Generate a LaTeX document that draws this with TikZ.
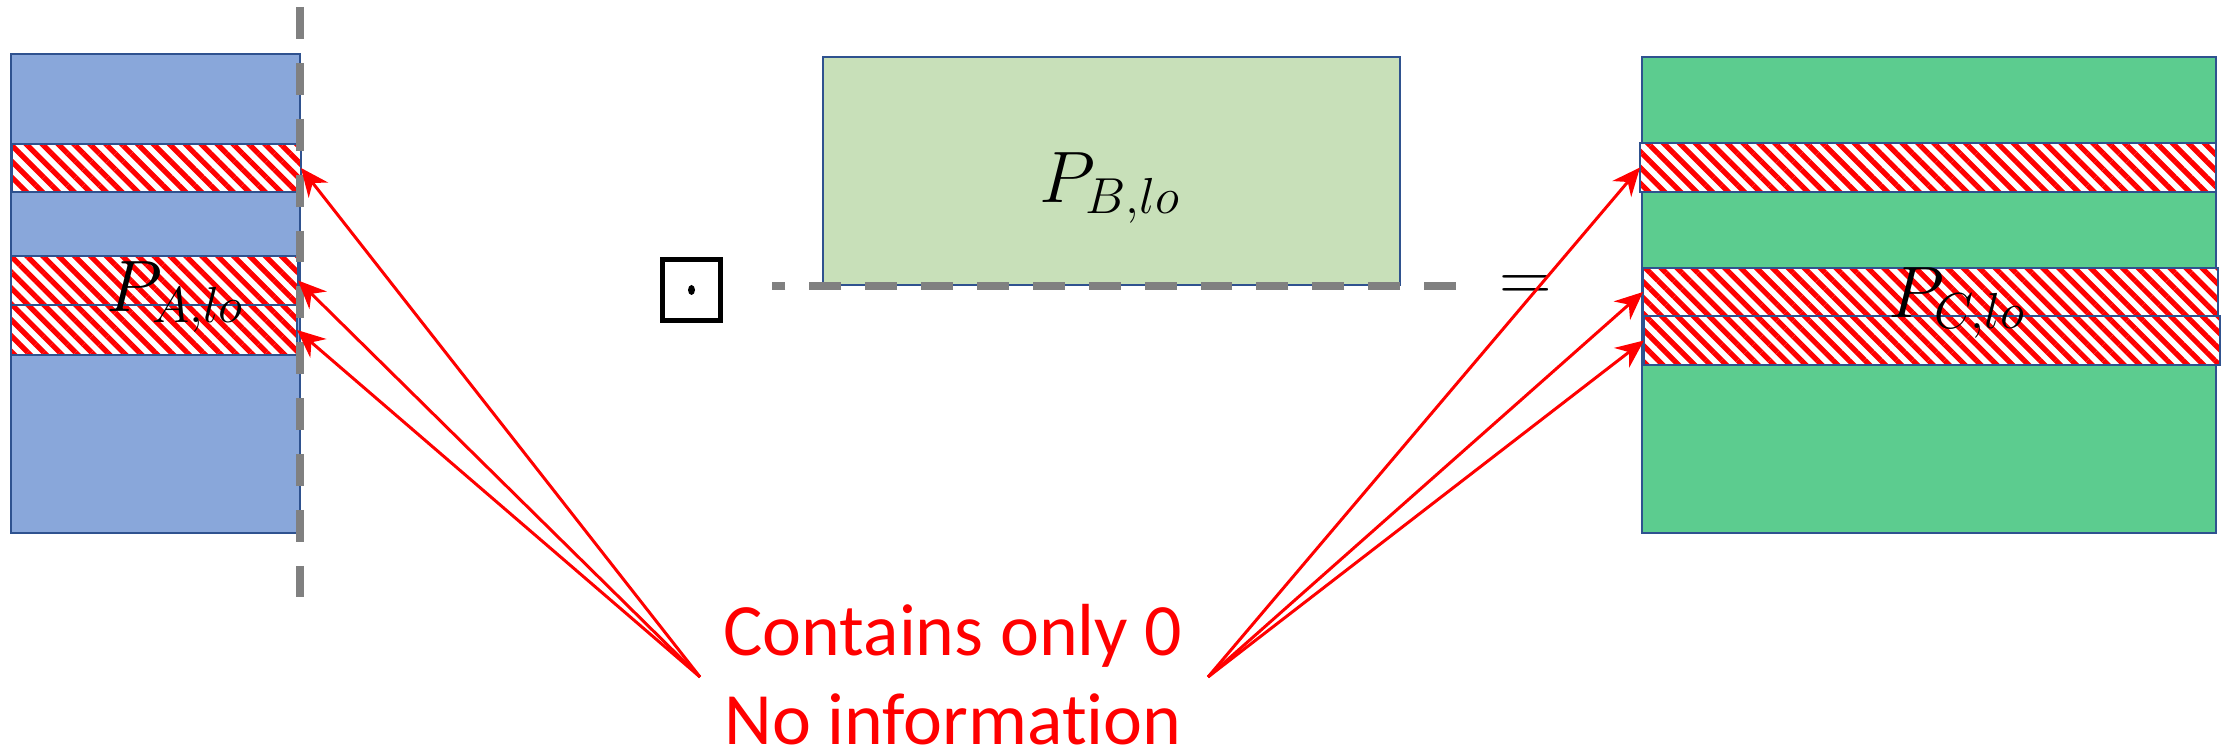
\documentclass[tikz,border=0pt]{standalone}
\usepackage{fontspec}
\newfontfamily\notefont[Ligatures=NoCommon]{Carlito}
\usetikzlibrary{arrows.meta,patterns.meta}
\definecolor{boxedge}{RGB}{47,82,143}
\definecolor{fillA}{RGB}{137,167,218}
\definecolor{fillB}{RGB}{200,224,185}
\definecolor{fillC}{RGB}{92,204,143}
\definecolor{cutgray}{RGB}{128,128,128}

\begin{document}
\begin{tikzpicture}[
    mat/.style={draw=boxedge, line width=0.7pt, inner sep=0pt, outer sep=0pt},
    zero/.style={mat, preaction={fill=white}, pattern={Lines[angle=-45, distance=3.2pt, line width=1.5pt]}, pattern color=red},
    lbl/.style={font=\fontsize{21}{24}\selectfont},
    cutline/.style={draw=cutgray, line width=2.2pt, dash pattern=on 9.1pt off 6.8pt},
    arr/.style={draw=red, line width=0.85pt, -{Stealth[length=8pt, width=7pt]}},
    note/.style={text=red, align=center, inner sep=0pt, font=\notefont\fontsize{21}{25.6}\selectfont}
]
\useasboundingbox (0,0) rectangle (22.29,7.54);

% P_A with its zero rows
\node[mat, fill=fillA, minimum width=2.89cm, minimum height=4.79cm] (A) at (1.555,4.605) {};
\node[zero, minimum width=2.89cm, minimum height=0.48cm] (a1) at (1.565,5.86) {};
\node[zero, minimum width=2.87cm, minimum height=0.49cm] (a2) at (1.545,4.735) {};
\node[zero, minimum width=2.86cm, minimum height=0.50cm] (a3) at (1.54,4.24) {};
\node[lbl, anchor=base] (labA) at (1.755,4.42) {$P_{A,lo}$};

% P_B
\node[mat, fill=fillB, minimum width=5.77cm, minimum height=2.28cm] (B) at (11.115,5.83) {};
\node[lbl, anchor=base] (labB) at (11.10,5.51) {$P_{B,lo}$};

% P_C with its zero rows
\node[mat, fill=fillC, minimum width=5.74cm, minimum height=4.76cm] (C) at (19.29,4.59) {};
\node[zero, minimum width=5.76cm, minimum height=0.49cm] (c1) at (19.28,5.865) {};
\node[zero, minimum width=5.75cm, minimum height=0.48cm] (c2) at (19.305,4.62) {};
\node[zero, minimum width=5.76cm, minimum height=0.49cm] (c3) at (19.32,4.135) {};
\node[lbl, anchor=base] (labC) at (19.57,4.36) {$P_{C,lo}$};

% operator and result sign
\node[draw, line width=1.4pt, minimum width=0.58cm, minimum height=0.61cm, inner sep=0pt] (op) at (6.915,4.64) {};
\fill (op.center) circle[x radius=0.035, y radius=0.05];
\node[lbl] (eq) at (15.26,4.65) {$=$};

% cut lines
\coordinate (cutT) at (3.00,7.47);
\coordinate (cutB) at (3.00,1.57);
\draw[cutline] (cutT) -- (cutB);
\coordinate (cutR) at (14.56,4.68);
\coordinate (cutL) at (7.72,4.68);
\draw[cutline] (cutR) -- (cutL);

% note and pointers
\node[note, anchor=base] (note) at (9.53,0.09) {Contains only 0\\No information};
\coordinate (srcL) at (7.00,0.77);
\coordinate (srcR) at (12.08,0.77);
\draw[arr] (srcL) -- (a1.east);
\draw[arr] (srcL) -- (a2.east);
\draw[arr] (srcL) -- (a3.east);
\draw[arr] (srcR) -- (c1.west);
\draw[arr] (srcR) -- (c2.west);
\draw[arr] (srcR) -- (c3.west);
\end{tikzpicture}
\end{document}
